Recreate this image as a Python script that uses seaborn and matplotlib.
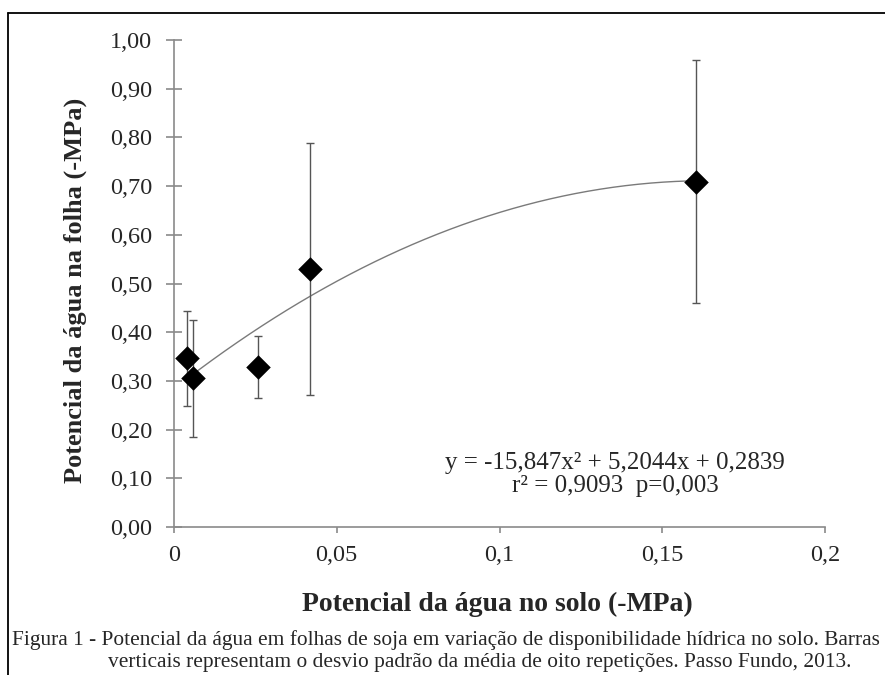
import numpy as np
import pandas as pd
import matplotlib
matplotlib.use("Agg")
import matplotlib.pyplot as plt
import seaborn as sns
from matplotlib.lines import Line2D

# ---- data ----
soil_potential = [0.0041, 0.0059, 0.0259, 0.0418, 0.1603]
leaf_potential = [0.346, 0.305, 0.328, 0.530, 0.709]
std_dev = [0.097, 0.120, 0.064, 0.258, 0.250]
fit_coefs = [-15.847, 5.2044, 0.2839]   # quadratic from the printed equation
fit_range = [0.007, 0.1603]
x_ticks = [0, 0.05, 0.1, 0.15, 0.2]
x_tick_labels = ["0", "0,05", "0,1", "0,15", "0,2"]
y_ticks = [0.0, 0.1, 0.2, 0.3, 0.4, 0.5, 0.6, 0.7, 0.8, 0.9, 1.0]
y_tick_labels = ["0,00", "0,10", "0,20", "0,30", "0,40", "0,50", "0,60", "0,70", "0,80", "0,90", "1,00"]
x_label = "Potencial da água no solo (-MPa)"
y_label = "Potencial da água na folha (-MPa)"
eq_text = "y = -15,847x² + 5,2044x + 0,2839"
r2_text = "r² = 0,9093  p=0,003"
caption1 = "Figura 1 - Potencial da água em folhas de soja em variação de disponibilidade hídrica no solo. Barras"
caption2 = "verticais representam o desvio padrão da média de oito repetições. Passo Fundo, 2013."

sns.set_theme(style="white")
plt.rcParams["font.family"] = ["Liberation Serif", "DejaVu Serif"]

W, H = 885, 675
fig = plt.figure(figsize=(W / 100, H / 100), dpi=100)
ax_l, ax_r, ax_t, ax_b = 174, 825, 40, 527
ax = fig.add_axes([ax_l / W, 1 - ax_b / H, (ax_r - ax_l) / W, (ax_b - ax_t) / H])

df = pd.DataFrame({"x": soil_potential, "y": leaf_potential, "sd": std_dev})

# trend line
xs = np.linspace(fit_range[0], fit_range[1], 200)
ys = np.polyval(fit_coefs, xs)
sns.lineplot(x=xs, y=ys, ax=ax, color="#7a7a7a", lw=1.0, zorder=2)

# error bars
ax.errorbar(df["x"], df["y"], yerr=df["sd"], fmt="none", ecolor="#555555",
            elinewidth=1.0, capsize=3, capthick=1.0, zorder=3)

# points
sns.scatterplot(data=df, x="x", y="y", ax=ax, marker="D", s=12.5 ** 2,
                color="black", edgecolor="black", linewidth=0, zorder=4)

ax.set_xlim(0, 0.2)
ax.set_ylim(0, 1.0)
ax.set_xticks(x_ticks)
ax.set_xticklabels(x_tick_labels)
ax.set_yticks(y_ticks)
ax.set_yticklabels(y_tick_labels)
ax.set_xlabel("")
ax.set_ylabel("")

for s in ["top", "right"]:
    ax.spines[s].set_visible(False)
for s in ["left", "bottom"]:
    ax.spines[s].set_color("#8a8a8a")
    ax.spines[s].set_linewidth(1.2)

ax.tick_params(axis="y", direction="inout", length=11, width=1.2, color="#8a8a8a",
               labelsize=17.5, pad=10, left=True)
ax.tick_params(axis="x", direction="out", length=4, width=1.2, color="#8a8a8a",
               labelsize=17.5, pad=9, bottom=True)
ax.patch.set_alpha(0)

# equation
ax.text(0.1355, 0.131, eq_text, ha="center", va="center", fontsize=18,
        transform=ax.transData)
ax.text(0.1355, 0.084, r2_text, ha="center", va="center", fontsize=18,
        transform=ax.transData)

fig.text(497 / W, 1 - 604 / H, x_label, ha="center", va="center",
         fontsize=20, fontweight="bold")
fig.text(75 / W, 1 - 290 / H, y_label, ha="center", va="center",
         fontsize=19, fontweight="bold", rotation=90)

# caption (first line runs to the right edge as in the reference)
cap_size = 15.4
fig.text(12 / W, 1 - 640 / H, caption1, ha="left", va="center", fontsize=cap_size)
fig.text(108 / W, 1 - 662 / H, caption2, ha="left", va="center", fontsize=cap_size)

# frame
fig.add_artist(Line2D([8 / W, 8 / W], [0, 1 - 13 / H], color="black", lw=1.3,
                      transform=fig.transFigure))
fig.add_artist(Line2D([8 / W, 1.0], [1 - 13 / H, 1 - 13 / H], color="black", lw=1.3,
                      transform=fig.transFigure))

fig.savefig("out.png", dpi=100, facecolor="white")
